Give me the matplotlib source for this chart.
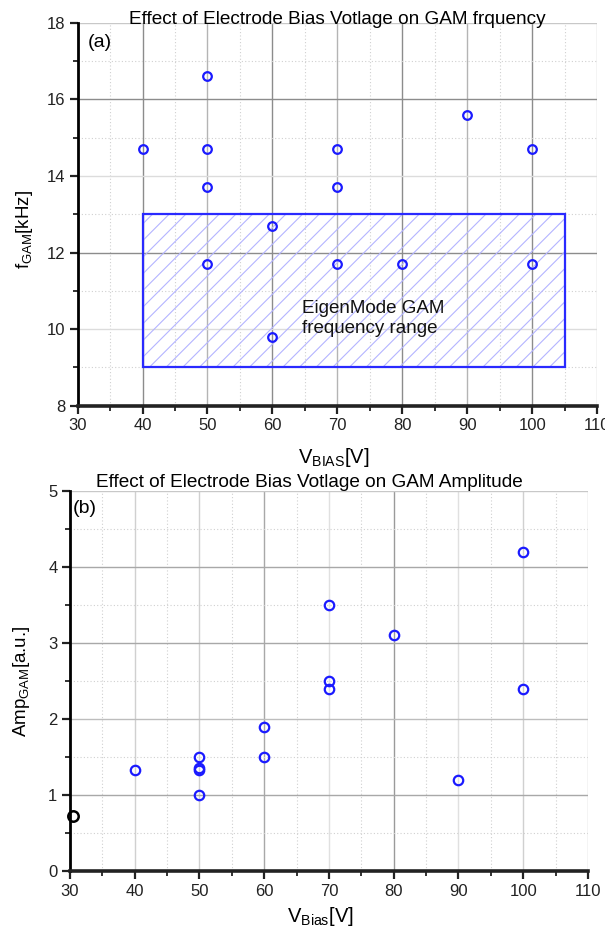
import matplotlib
matplotlib.use('Agg')
import matplotlib.pyplot as plt
from matplotlib.patches import Rectangle
from matplotlib.ticker import MultipleLocator

plt.rcParams['font.family'] = ['Liberation Sans', 'DejaVu Sans']
plt.rcParams['mathtext.default'] = 'regular'
plt.rcParams['hatch.linewidth'] = 0.8

# ---- data: panel (a) ----
freq_vbias = [40, 50, 50, 50, 50, 60, 60, 70, 70, 70, 80, 90, 100, 100]
freq_khz = [14.7, 16.6, 14.7, 13.7, 11.7, 12.7, 9.8, 14.7, 13.7, 11.7, 11.7, 15.6, 14.7, 11.7]
eigen_vbias_range = [40, 105]
eigen_freq_range = [9, 13]
eigen_label = "EigenMode GAM\nfrequency range"

# ---- data: panel (b) ----
amp_vbias = [40, 50, 50, 50, 50, 60, 60, 70, 70, 70, 80, 90, 100, 100]
amp_values = [1.33, 1.50, 1.35, 1.33, 1.00, 1.90, 1.50, 3.50, 2.50, 2.40, 3.10, 1.20, 4.20, 2.40]
ref_vbias = [30.5]
ref_amp = [0.73]

title_a = "Effect of Electrode Bias Votlage on GAM frquency"
title_b = "Effect of Electrode Bias Votlage on GAM Amplitude"

BLUE = '#1a1aff'

fig = plt.figure(figsize=(6.05, 9.35), dpi=100)
ax1 = fig.add_axes([0.1281, 0.5661, 0.8595, 0.4096])
ax2 = fig.add_axes([0.1157, 0.0684, 0.8562, 0.4065])


def style_axes(ax, xlim, ylim, xmaj, xmin, ymaj, ymin):
    ax.set_xlim(*xlim)
    ax.set_ylim(*ylim)
    ax.xaxis.set_major_locator(MultipleLocator(xmaj))
    ax.xaxis.set_minor_locator(MultipleLocator(xmin))
    ax.yaxis.set_major_locator(MultipleLocator(ymaj))
    ax.yaxis.set_minor_locator(MultipleLocator(ymin))
    for s in ['top', 'right']:
        ax.spines[s].set_visible(False)
    ax.spines['left'].set_linewidth(2.0)
    ax.spines['bottom'].set_linewidth(2.6)
    ax.spines['bottom'].set_color('#222222')
    ax.tick_params(which='major', direction='out', length=6, width=1.6,
                   labelsize=12, colors='#222222', pad=3)
    ax.tick_params(which='minor', direction='out', length=3.5, width=1.3, colors='#222222')
    ax.grid(True, which='major', linestyle='-', linewidth=1.0, color='#c8c8c8')
    ax.grid(True, which='minor', linestyle=(0, (1, 2)), linewidth=0.8, color='#d0d0d0')
    ax.set_axisbelow(True)


def color_grid(ax, xcols, ycols):
    for t in ax.xaxis.get_major_ticks():
        loc = t.get_loc()
        if loc is not None:
            t.gridline.set_color(xcols.get(round(loc, 3), '#c8c8c8'))
    for t in ax.yaxis.get_major_ticks():
        loc = t.get_loc()
        if loc is not None:
            t.gridline.set_color(ycols.get(round(loc, 3), '#c8c8c8'))


style_axes(ax1, (30, 110), (8, 18), 10, 5, 2, 1)
style_axes(ax2, (30, 110), (0, 5), 10, 5, 1, 0.5)

# ---- panel (a) ----
x0, x1 = eigen_vbias_range
y0, y1 = eigen_freq_range
ax1.add_patch(Rectangle((x0, y0), x1 - x0, y1 - y0, fill=False, hatch='//',
                        edgecolor='#b4b4ff', linewidth=0, zorder=2))
ax1.add_patch(Rectangle((x0, y0), x1 - x0, y1 - y0, fill=False,
                        edgecolor='#2a2aff', linewidth=1.6, zorder=3))
ax1.plot(freq_vbias, freq_khz, linestyle='none', marker='o', markersize=6.2,
         markerfacecolor='none', markeredgecolor=BLUE, markeredgewidth=1.6, zorder=4)
ax1.text(64.6, 10.75, eigen_label, ha='left', va='top', fontsize=13.5,
         linespacing=1.2, color='#111111', zorder=5)
ax1.text(0.499, 0.997, title_a, transform=ax1.transAxes, ha='center',
         va='baseline', fontsize=13.7)
ax1.text(0.02, 0.948, '(a)', transform=ax1.transAxes, ha='left', va='center',
         fontsize=14)
ax1.set_xlabel(r'V$_{BIAS}$[V]', fontsize=14.5)
ax1.xaxis.set_label_coords(0.493, -0.105)
ax1.set_ylabel(r'f$_{GAM}$[kHz]', fontsize=13.5)
ax1.yaxis.set_label_coords(-0.082, 0.459)

# ---- panel (b) ----
ax2.plot(amp_vbias, amp_values, linestyle='none', marker='o', markersize=6.8,
         markerfacecolor='none', markeredgecolor=BLUE, markeredgewidth=1.6, zorder=4)
ax2.plot(ref_vbias, ref_amp, linestyle='none', marker='o', markersize=7.5,
         markerfacecolor='none', markeredgecolor='black', markeredgewidth=1.8,
         zorder=5, clip_on=False)
ax2.text(0.463, 1.0105, title_b, transform=ax2.transAxes, ha='center',
         va='baseline', fontsize=13.7)
ax2.text(0.005, 0.955, '(b)', transform=ax2.transAxes, ha='left', va='center',
         fontsize=14)
ax2.set_xlabel(r'V$_{Bias}$[V]', fontsize=14.5)
ax2.xaxis.set_label_coords(0.483, -0.09)
ax2.set_ylabel(r'Amp$_{GAM}$[a.u.]', fontsize=13.5)
ax2.yaxis.set_label_coords(-0.073, 0.5)

fig.canvas.draw()
color_grid(ax1,
           {40: '#8c8c8c', 60: '#8c8c8c', 80: '#8c8c8c', 100: '#8c8c8c',
            50: '#b4b4b4', 70: '#b4b4b4', 90: '#b4b4b4'},
           {12: '#8c8c8c', 16: '#8c8c8c', 10: '#dcdcdc', 14: '#dcdcdc'})
color_grid(ax2,
           {40: '#d0d0d0', 50: '#d0d0d0', 60: '#a8a8a8', 70: '#e0e0e0',
            80: '#9a9a9a', 90: '#e0e0e0', 100: '#d0d0d0'},
           {1: '#a8a8a8', 2: '#bdbdbd', 3: '#a8a8a8', 4: '#a8a8a8'})

fig.savefig('out.png', dpi=100)
